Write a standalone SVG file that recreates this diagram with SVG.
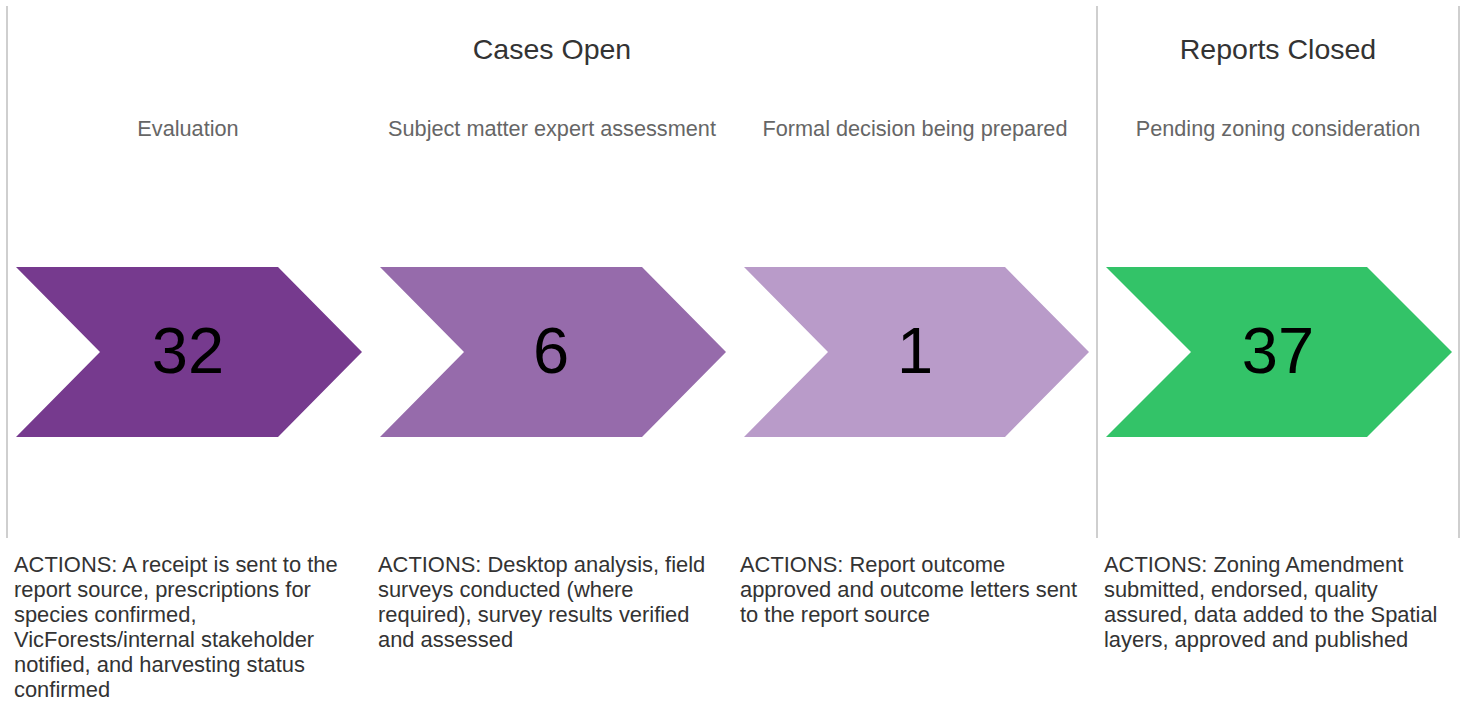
<svg xmlns="http://www.w3.org/2000/svg" width="1466" height="701" viewBox="0 0 1466 701">
<style>
.title{font-family:"Liberation Sans",Arial,sans-serif;font-size:28.5px;fill:#333;text-anchor:middle}
.sub{font-family:"Liberation Sans",Arial,sans-serif;font-size:21.7px;fill:#666;text-anchor:middle}
.num{font-family:"Liberation Sans",Arial,sans-serif;font-size:65px;fill:#000;text-anchor:middle}
.act{font-family:"Liberation Sans",Arial,sans-serif;font-size:21.9px;fill:#333}
.div{stroke:#cfcfcf;stroke-width:2;fill:none}
</style>
<rect width="1466" height="701" fill="#fff"/>
<g id="dividers">
<line class="div" x1="7" y1="6" x2="7" y2="538"/>
<line class="div" x1="1097" y1="6" x2="1097" y2="538"/>
<line class="div" x1="1459" y1="6" x2="1459" y2="538"/>
</g>
<g id="headers">
<text class="title" x="552" y="59">Cases Open</text>
<text class="title" x="1278" y="59">Reports Closed</text>
</g>
<g id="node-evaluation">
<text class="sub" x="188" y="136">Evaluation</text>
<polygon points="16,267 278,267 362,352 278,437 16,437 100,352" fill="#763A8E"/>
<text class="num" x="188" y="373">32</text>
<text class="act" x="14" y="572">ACTIONS: A receipt is sent to the<tspan x="14" dy="25">report source, prescriptions for</tspan><tspan x="14" dy="25">species confirmed,</tspan><tspan x="14" dy="25">VicForests/internal stakeholder</tspan><tspan x="14" dy="25">notified, and harvesting status</tspan><tspan x="14" dy="25">confirmed</tspan></text>
</g>
<g id="node-sme">
<text class="sub" x="552" y="136">Subject matter expert assessment</text>
<polygon points="380,267 642,267 726,352 642,437 380,437 464,352" fill="#966BAB"/>
<text class="num" x="551" y="373">6</text>
<text class="act" x="378" y="572">ACTIONS: Desktop analysis, field<tspan x="378" dy="25">surveys conducted (where</tspan><tspan x="378" dy="25">required), survey results verified</tspan><tspan x="378" dy="25">and assessed</tspan></text>
</g>
<g id="node-decision">
<text class="sub" x="915" y="136">Formal decision being prepared</text>
<polygon points="744,267 1005,267 1089,352 1005,437 744,437 828,352" fill="#B99BC9"/>
<text class="num" x="915" y="373">1</text>
<text class="act" x="740" y="572">ACTIONS: Report outcome<tspan x="740" dy="25">approved and outcome letters sent</tspan><tspan x="740" dy="25">to the report source</tspan></text>
</g>
<g id="node-zoning">
<text class="sub" x="1278" y="136">Pending zoning consideration</text>
<polygon points="1106,267 1367,267 1452,352 1367,437 1106,437 1191,352" fill="#33C368"/>
<text class="num" x="1278" y="373">37</text>
<text class="act" x="1104" y="572">ACTIONS: Zoning Amendment<tspan x="1104" dy="25">submitted, endorsed, quality</tspan><tspan x="1104" dy="25">assured, data added to the Spatial</tspan><tspan x="1104" dy="25">layers, approved and published</tspan></text>
</g>
<g id="connectors"></g>
</svg>
